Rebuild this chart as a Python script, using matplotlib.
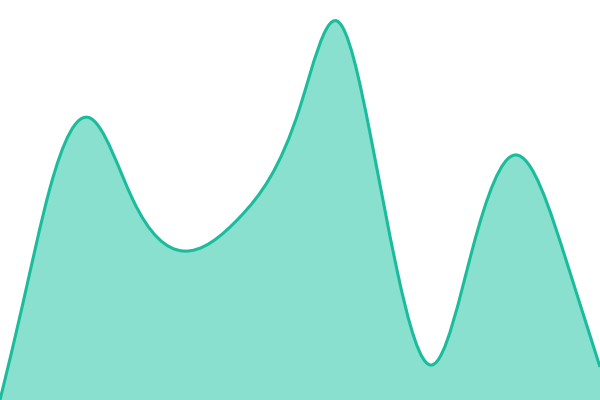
import numpy as np
import matplotlib
matplotlib.use('Agg')
import matplotlib.pyplot as plt
from matplotlib.path import Path
from matplotlib.patches import PathPatch

# values (x position, value)
xs = [0, 23, 50, 90, 133, 183, 240, 300, 337, 370, 397, 432, 473, 515, 567, 600]
vals = [0, 97, 212, 282, 200, 149, 183, 293, 379, 267, 130, 35, 153, 245, 137, 33]

line_color = '#1abc9c'
fill_color = '#8ae0cf'


def natural_slopes(x, y):
    # first derivatives of a natural cubic spline
    x = np.asarray(x, float)
    y = np.asarray(y, float)
    n = len(x)
    h = np.diff(x)
    A = np.zeros((n, n))
    b = np.zeros(n)
    A[0, 0], A[0, 1] = 2 / h[0], 1 / h[0]
    b[0] = 3 * (y[1] - y[0]) / h[0] ** 2
    for i in range(1, n - 1):
        A[i, i - 1] = 1 / h[i - 1]
        A[i, i] = 2 / h[i - 1] + 2 / h[i]
        A[i, i + 1] = 1 / h[i]
        b[i] = 3 * ((y[i] - y[i - 1]) / h[i - 1] ** 2 + (y[i + 1] - y[i]) / h[i] ** 2)
    A[-1, -2], A[-1, -1] = 1 / h[-1], 2 / h[-1]
    b[-1] = 3 * (y[-1] - y[-2]) / h[-1] ** 2
    return np.linalg.solve(A, b)


def curve_path(x, y):
    t = natural_slopes(x, y)
    verts = [(x[0], y[0])]
    codes = [Path.MOVETO]
    for i in range(len(x) - 1):
        dx = (x[i + 1] - x[i]) / 3
        verts += [(x[i] + dx, y[i] + dx * t[i]),
                  (x[i + 1] - dx, y[i + 1] - dx * t[i + 1]),
                  (x[i + 1], y[i + 1])]
        codes += [Path.CURVE4] * 3
    return verts, codes


fig = plt.figure(figsize=(6, 4), dpi=100)
ax = fig.add_axes([0, 0, 1, 1])

verts, codes = curve_path(xs, vals)
area_verts = verts + [(xs[-1], 0), (xs[0], 0), (xs[0], 0)]
area_codes = codes + [Path.LINETO, Path.LINETO, Path.CLOSEPOLY]
ax.add_patch(PathPatch(Path(area_verts, area_codes), facecolor=fill_color,
                       edgecolor='none'))
ax.add_patch(PathPatch(Path(verts, codes), facecolor='none',
                       edgecolor=line_color, linewidth=2.2))

ax.set_xlim(0, 600)
ax.set_ylim(0, 400)
ax.axis('off')
fig.savefig('out.png')
